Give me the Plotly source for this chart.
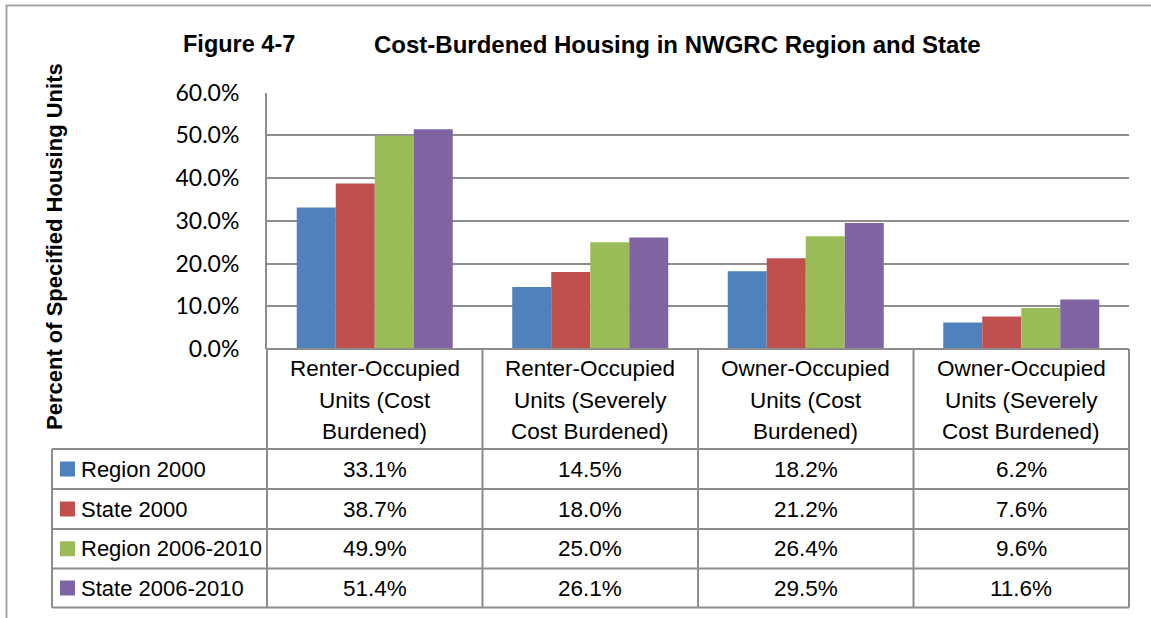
import plotly.graph_objects as go

W, H = 1151, 618

# ---- data ----
categories = [
    "Renter-Occupied Units (Cost Burdened)",
    "Renter-Occupied Units (Severely Cost Burdened)",
    "Owner-Occupied Units (Cost Burdened)",
    "Owner-Occupied Units (Severely Cost Burdened)",
]
category_lines = [
    ["Renter-Occupied", "Units (Cost", "Burdened)"],
    ["Renter-Occupied", "Units (Severely", "Cost Burdened)"],
    ["Owner-Occupied", "Units (Cost", "Burdened)"],
    ["Owner-Occupied", "Units (Severely", "Cost Burdened)"],
]
series_names = ["Region 2000", "State 2000", "Region 2006-2010", "State 2006-2010"]
region_2000 = [33.1, 14.5, 18.2, 6.2]
state_2000 = [38.7, 18.0, 21.2, 7.6]
region_2006_2010 = [49.9, 25.0, 26.4, 9.6]
state_2006_2010 = [51.4, 26.1, 29.5, 11.6]
series_values = [region_2000, state_2000, region_2006_2010, state_2006_2010]
series_colors = ["#4F81BD", "#C0504D", "#9BBB59", "#8064A2"]
y_tick_values = [0, 10, 20, 30, 40, 50, 60]
y_tick_labels = ["0.0%", "10.0%", "20.0%", "30.0%", "40.0%", "50.0%", "60.0%"]

title_left = "Figure 4-7"
title_main = "Cost-Burdened Housing in NWGRC Region and State"
y_title = "Percent of Specified Housing Units"

# ---- layout helpers (pixel -> paper) ----
def px(x):
    return x / W

def py(y):
    return 1 - y / H

NARROW = "Liberation Sans Narrow, Arial Narrow, Liberation Sans, Arial, sans-serif"
TICKFONT = "Lato, Carlito, Calibri, sans-serif"
GRID = "#8E8E8E"
TABLE = "#8C8C8C"
TXT = 22.5
LEGTXT = 22

PL, PR = 267, 1129          # plot area left/right
PT, PB = 92.5, 349          # plot area top/bottom
ROWS = [349, 449, 489, 529, 568.5, 607.5]
LEG_L = 52

fig = go.Figure()
for name, vals, col in zip(series_names, series_values, series_colors):
    fig.add_trace(go.Bar(
        x=categories, y=vals, name=name,
        marker=dict(color=col, line=dict(width=0)),
        showlegend=False,
    ))

shapes = []
annotations = []

# outer frame
shapes.append(dict(type="line", xref="paper", yref="paper",
                   x0=px(6.5), x1=px(6.5), y0=py(5.5), y1=py(H + 2),
                   line=dict(color="#A6A6A6", width=2)))
shapes.append(dict(type="line", xref="paper", yref="paper",
                   x0=px(5.5), x1=px(W + 2), y0=py(5.5), y1=py(5.5),
                   line=dict(color="#A6A6A6", width=2)))

# data table grid
ncat = len(categories)
colw = (PR - PL) / ncat
col_edges = [PL + i * colw for i in range(ncat + 1)]
for i, xe in enumerate(col_edges):
    shapes.append(dict(type="line", xref="paper", yref="paper",
                       x0=px(xe), x1=px(xe), y0=py(ROWS[0]), y1=py(ROWS[-1]),
                       line=dict(color=TABLE, width=2)))
shapes.append(dict(type="line", xref="paper", yref="paper",
                   x0=px(LEG_L), x1=px(LEG_L), y0=py(ROWS[1]), y1=py(ROWS[-1]),
                   line=dict(color=TABLE, width=2)))
shapes.append(dict(type="line", xref="paper", yref="paper",
                   x0=px(PL), x1=px(PR), y0=py(ROWS[0]), y1=py(ROWS[0]),
                   line=dict(color=TABLE, width=2)))
for r in ROWS[1:]:
    shapes.append(dict(type="line", xref="paper", yref="paper",
                       x0=px(LEG_L), x1=px(PR), y0=py(r), y1=py(r),
                       line=dict(color=TABLE, width=2)))

# header (category labels)
line_y = [368, 400, 431]
for ci, lines in enumerate(category_lines):
    cx = (col_edges[ci] + col_edges[ci + 1]) / 2
    for li, txt in enumerate(lines):
        annotations.append(dict(xref="paper", yref="paper", x=px(cx), y=py(line_y[li]),
                                text=txt, showarrow=False, xanchor="center", yanchor="middle",
                                font=dict(family=NARROW, size=TXT, color="#000000")))

# legend keys and values
for si, (name, vals, col) in enumerate(zip(series_names, series_values, series_colors)):
    rc = (ROWS[si + 1] + ROWS[si + 2]) / 2
    shapes.append(dict(type="rect", xref="paper", yref="paper",
                       x0=px(60), x1=px(75), y0=py(rc - 7.5), y1=py(rc + 7.5),
                       fillcolor=col, line=dict(width=0)))
    annotations.append(dict(xref="paper", yref="paper", x=px(79), y=py(rc),
                            text=name, showarrow=False, xanchor="left", yanchor="middle",
                            font=dict(family=NARROW, size=LEGTXT, color="#000000")))
    for ci, v in enumerate(vals):
        cx = (col_edges[ci] + col_edges[ci + 1]) / 2
        annotations.append(dict(xref="paper", yref="paper", x=px(cx), y=py(rc),
                                text=f"{v:.1f}%", showarrow=False, xanchor="center",
                                yanchor="middle",
                                font=dict(family=NARROW, size=TXT, color="#000000")))

# titles
annotations.append(dict(xref="paper", yref="paper", x=px(239), y=py(44),
                        text=f"<b>{title_left}</b>", showarrow=False,
                        xanchor="center", yanchor="middle",
                        font=dict(family=NARROW, size=23.5, color="#000000")))
annotations.append(dict(xref="paper", yref="paper", x=px(677), y=py(44),
                        text=f"<b>{title_main}</b>", showarrow=False,
                        xanchor="center", yanchor="middle",
                        font=dict(family=NARROW, size=24, color="#000000")))
annotations.append(dict(xref="paper", yref="paper", x=px(55), y=py(247),
                        text=f"<b>{y_title}</b>", showarrow=False, textangle=-90,
                        xanchor="center", yanchor="middle",
                        font=dict(family=NARROW, size=22, color="#000000")))

fig.update_layout(
    width=W, height=H, autosize=False,
    margin=dict(l=0, r=0, t=0, b=0, pad=0),
    paper_bgcolor="#FFFFFF", plot_bgcolor="#FFFFFF",
    barmode="group", bargap=0.276, bargroupgap=0,
    shapes=shapes, annotations=annotations,
    xaxis=dict(domain=[px(PL), px(PR)], showticklabels=False, showgrid=False,
               zeroline=False, showline=False, ticks="", automargin=False),
    yaxis=dict(domain=[py(PB), py(PT)], range=[0, 60],
               tickvals=y_tick_values, ticktext=y_tick_labels,
               showgrid=True, gridcolor=GRID, gridwidth=1.5,
               zeroline=False, showline=True, linecolor=TABLE, linewidth=2,
               ticks="", ticklabelstandoff=21, automargin=False,
               tickfont=dict(family=TICKFONT, size=23, color="#000000")),
)

fig.write_html("out.html",
               config={"displayModeBar": False},
               post_script="document.body.style.margin='0';document.body.style.overflow='hidden';")
